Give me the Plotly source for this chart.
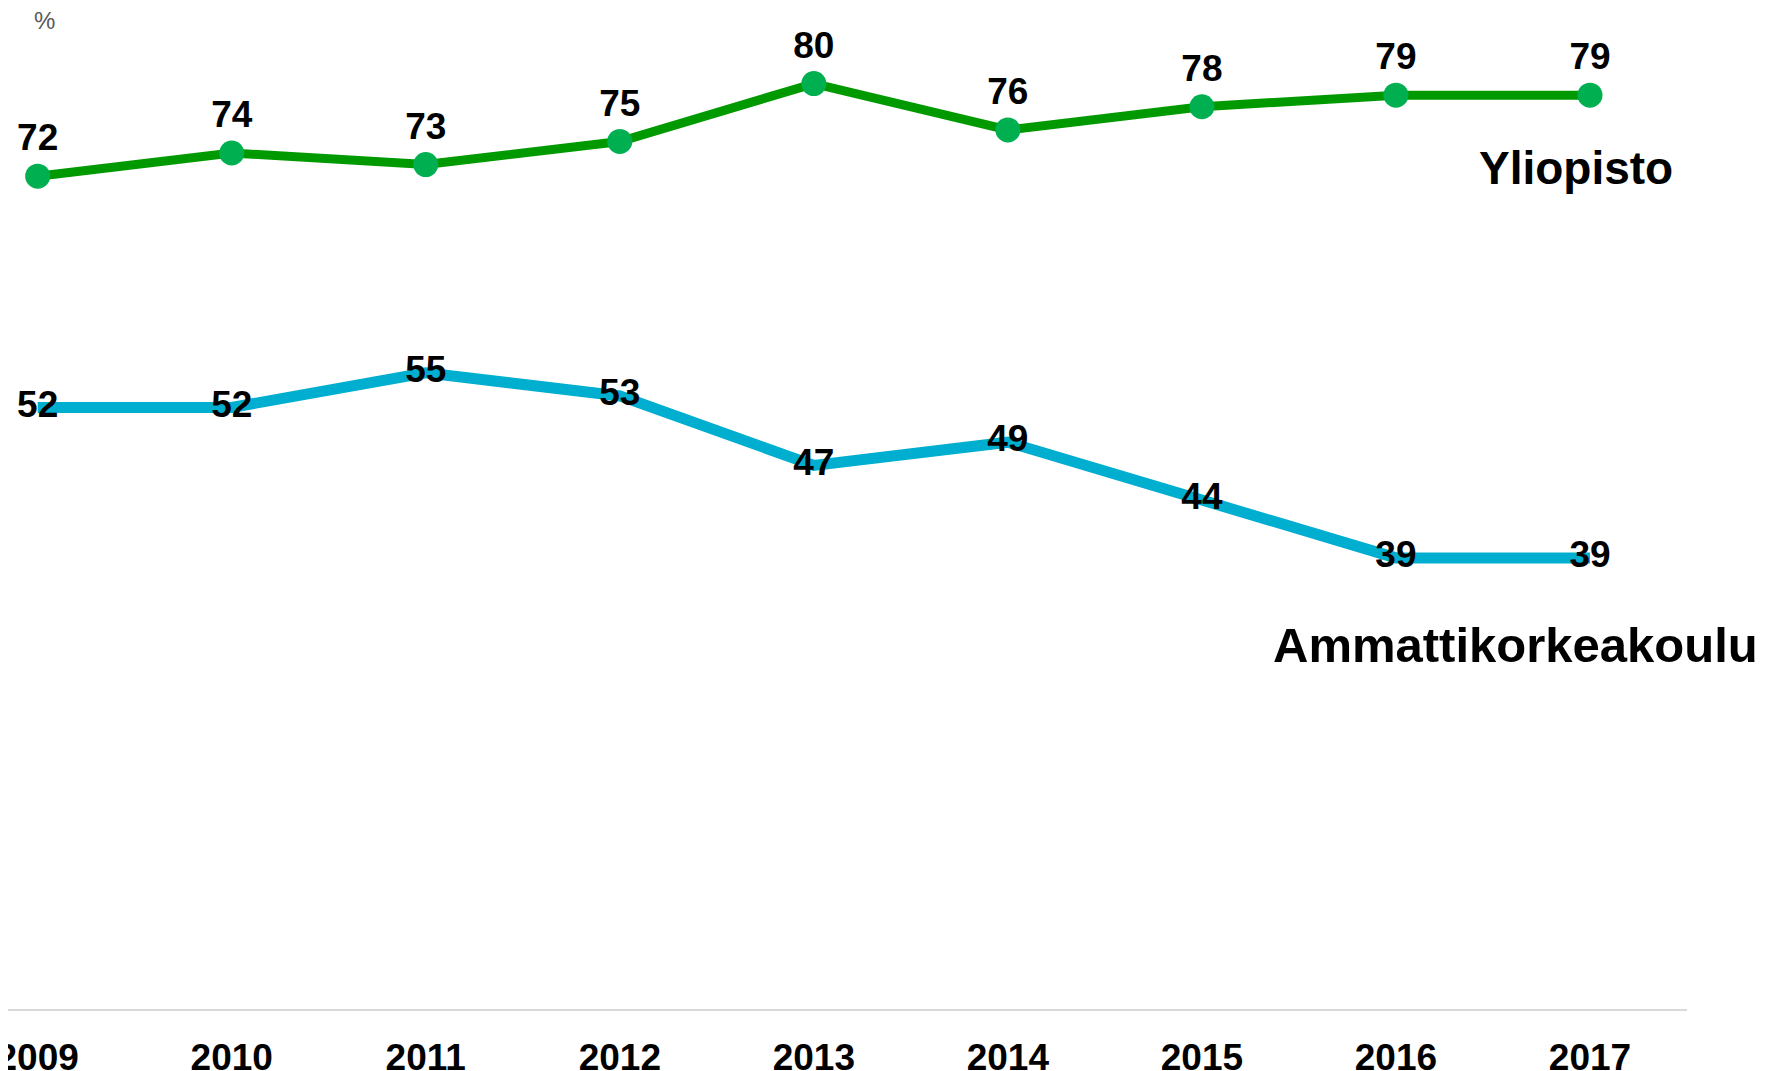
import plotly.graph_objects as go

years = [2009, 2010, 2011, 2012, 2013, 2014, 2015, 2016, 2017]
yliopisto = [72, 74, 73, 75, 80, 76, 78, 79, 79]
amk = [52, 52, 55, 53, 47, 49, 44, 39, 39]
tick_labels = [str(y) for y in years]

FONT = "Liberation Sans"
# page body has an 8px margin, so the figure is drawn 8px in from the window edge
PLOT_W, PLOT_H = 1679, 989

fig = go.Figure()

fig.add_trace(go.Scatter(
    x=years, y=amk, mode="lines+text", name="Ammattikorkeakoulu",
    line=dict(color="#00AED0", width=11),
    text=[str(v) for v in amk], textposition="middle center",
    textfont=dict(size=37, color="black", family=FONT, weight="bold"),
    cliponaxis=False,
))

fig.add_trace(go.Scatter(
    x=years, y=yliopisto, mode="lines+markers+text", name="Yliopisto",
    line=dict(color="#009A00", width=9),
    marker=dict(color="#00B050", size=25),
    text=[str(v) for v in yliopisto], textposition="top center",
    textfont=dict(size=37, color="black", family=FONT, weight="bold"),
    cliponaxis=False,
))

# series labels
fig.add_annotation(xref="paper", yref="paper", x=1667 / PLOT_W, y=(1009 - 168) / PLOT_H,
                   text="Yliopisto", showarrow=False, xanchor="right", yanchor="middle",
                   font=dict(size=46, color="black", family=FONT, weight="bold"))
fig.add_annotation(xref="paper", yref="paper", x=1752 / PLOT_W, y=(1009 - 645) / PLOT_H,
                   text="Ammattikorkeakoulu", showarrow=False, xanchor="right", yanchor="middle",
                   font=dict(size=49, color="black", family=FONT, weight="bold"))
fig.add_annotation(xref="paper", yref="paper", x=36 / PLOT_W, y=1.0, text="%",
                   showarrow=False, xanchor="center", yanchor="middle",
                   font=dict(size=24, color="#595959", family=FONT))

fig.update_xaxes(
    range=[2008.847, 2017.5], tickmode="array", tickvals=years, ticktext=tick_labels,
    showgrid=False, zeroline=False, showline=True, linecolor="#D9D9D9", linewidth=2,
    ticks="", ticklabelstandoff=15, ticklabeloverflow="allow", automargin=False,
    tickfont=dict(size=37, color="black", family=FONT, weight="bold"),
)
fig.update_yaxes(range=[0, 85.5], visible=False, showgrid=False, zeroline=False,
                 automargin=False)

fig.update_layout(
    width=1782, height=1063,
    margin=dict(l=0, r=103, t=12, b=62, pad=0),
    plot_bgcolor="white", paper_bgcolor="white",
    showlegend=False,
)

fig.write_html("out.html")
